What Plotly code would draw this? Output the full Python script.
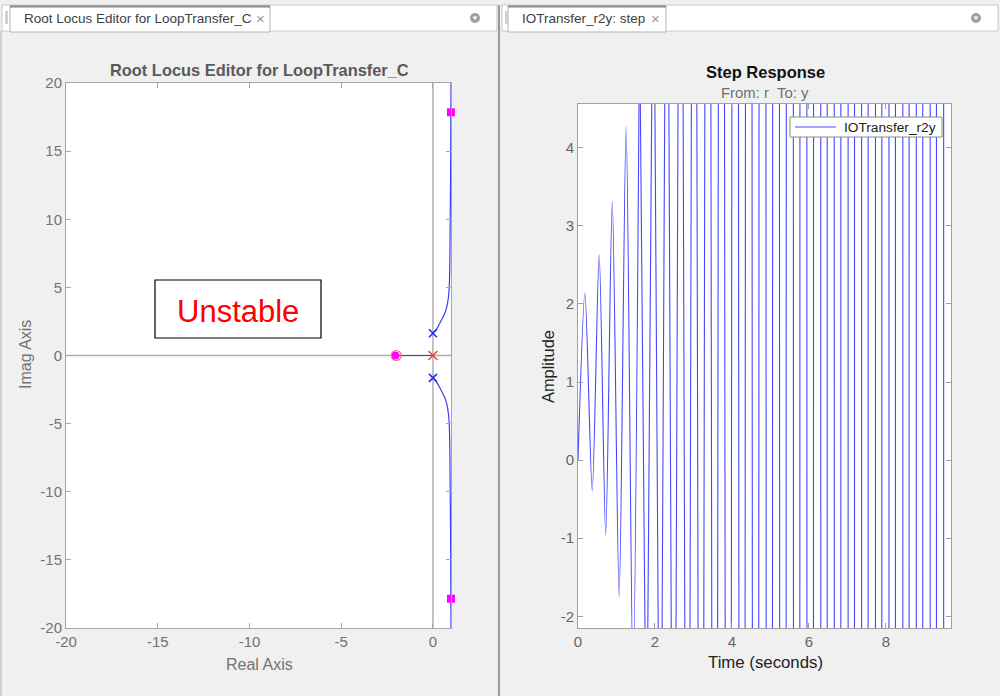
import plotly.graph_objects as go

# ---------------- data ----------------
# Root locus: upper / lower complex branches (from plant poles toward right-half asymptote)
locus_up_x = [0.0, 0.20, 0.38, 0.52, 0.65, 0.74, 0.80, 0.86, 0.89, 0.92, 0.94, 0.96, 0.975, 0.985]
locus_up_y = [1.64, 1.95, 2.39, 2.75, 3.12, 3.50, 3.86, 4.50, 5.08, 6.80, 10.0, 13.0, 17.0, 20.0]
locus_lo_x = [0.0, 0.20, 0.38, 0.52, 0.65, 0.74, 0.80, 0.86, 0.89, 0.92, 0.94, 0.96, 0.975, 0.985]
locus_lo_y = [-1.64, -1.95, -2.39, -2.75, -3.12, -3.50, -3.86, -4.50, -5.08, -6.80, -10.0, -13.0, -17.0, -20.0]
locus_real_x = [0.0, -2.0]
locus_real_y = [0.0, 0.0]

plant_poles_x = [0.0, 0.0]
plant_poles_y = [1.64, -1.64]
comp_pole_x = [0.0]
comp_pole_y = [0.0]
comp_zero_x = [-2.0]
comp_zero_y = [0.0]
cl_poles_x = [-2.05, 0.98, 0.98]
cl_poles_y = [0.0, 17.85, -17.85]

# Step response: start, then alternating peaks/troughs (off-scale ones estimated)
step_t0 = [0.0]
step_y0 = [0.0]
peak_t = [0.18, 0.55, 0.89, 1.25, 1.60, 1.96, 2.31, 2.67, 3.02, 3.38, 3.73, 4.09, 4.44, 4.80,
          5.15, 5.51, 5.86, 6.22, 6.57, 6.93, 7.28, 7.64, 7.99, 8.35, 8.70, 9.06, 9.41]
peak_y = [2.14, 2.63, 3.31, 4.27, 5.62, 7.5, 10.1, 13.8, 18.9, 26, 36, 50, 70, 98,
          137, 191, 267, 374, 524, 734, 1027, 1437, 2012, 2812, 3932, 5500, 7700]
trough_t = [0.37, 0.72, 1.07, 1.43, 1.78, 2.14, 2.49, 2.85, 3.20, 3.56, 3.91, 4.27, 4.62, 4.98,
            5.33, 5.69, 6.04, 6.40, 6.75, 7.11, 7.46, 7.82, 8.17, 8.53, 8.88, 9.24, 9.59]
trough_y = [-0.39, -0.96, -1.75, -2.85, -4.38, -6.5, -9.5, -13.6, -19.3, -27.3, -38, -54, -75, -105,
            -147, -205, -286, -400, -557, -775, -1078, -1500, -2085, -2898, -4028, -5600, -7780]
legend_name = "IOTransfer_r2y"

rl_xticks = [-20, -15, -10, -5, 0]
rl_yticks = [-20, -15, -10, -5, 0, 5, 10, 15, 20]
st_xticks = [0, 2, 4, 6, 8]
st_yticks = [-2, -1, 0, 1, 2, 3, 4]

# build step series (interleave); early part smoothed, later part straight
step_t = list(step_t0)
step_y = list(step_y0)
for a, b, c, d in zip(peak_t, peak_y, trough_t, trough_y):
    step_t += [a, c]
    step_y += [b, d]
N_SMOOTH = 9  # number of points drawn with spline smoothing
early_t, early_y = step_t[:N_SMOOTH + 1], step_y[:N_SMOOTH + 1]
late_t, late_y = step_t[N_SMOOTH:], step_y[N_SMOOTH:]

# ---------------- layout helpers ----------------
W, H = 1000, 696
def fx(p):
    return p / W
def fy(p):
    return 1 - p / H

FONT = "Liberation Sans, Arial, sans-serif"
BLUE = "rgb(60,60,255)"
STEPBLUE = "rgb(70,70,255)"

fig = go.Figure()

# root locus traces
for xs, ys, shp in [(locus_up_x, locus_up_y, "spline"), (locus_lo_x, locus_lo_y, "spline"),
                    (locus_real_x, locus_real_y, "linear")]:
    fig.add_trace(go.Scatter(x=xs, y=ys, mode="lines", line=dict(color=BLUE, width=1.2, shape=shp),
                             xaxis="x", yaxis="y", showlegend=False, hoverinfo="skip"))
fig.add_trace(go.Scatter(x=plant_poles_x, y=plant_poles_y, mode="markers",
                         marker=dict(symbol="x-thin", size=8, line=dict(color="rgb(40,40,230)", width=1.5)),
                         xaxis="x", yaxis="y", showlegend=False, cliponaxis=False))
fig.add_trace(go.Scatter(x=comp_pole_x, y=comp_pole_y, mode="markers",
                         marker=dict(symbol="x-thin", size=9, line=dict(color="rgb(230,70,70)", width=1.5)),
                         xaxis="x", yaxis="y", showlegend=False, cliponaxis=False))
fig.add_trace(go.Scatter(x=cl_poles_x[:1], y=cl_poles_y[:1], mode="markers",
                         marker=dict(symbol="circle", size=8, color="#ff00ff"),
                         xaxis="x", yaxis="y", showlegend=False, cliponaxis=False))
fig.add_trace(go.Scatter(x=comp_zero_x, y=comp_zero_y, mode="markers",
                         marker=dict(symbol="circle-open", size=10, line=dict(color="rgb(240,90,90)", width=1.2)),
                         xaxis="x", yaxis="y", showlegend=False, cliponaxis=False))
fig.add_trace(go.Scatter(x=cl_poles_x[1:], y=cl_poles_y[1:], mode="markers",
                         marker=dict(symbol="square", size=8, color="#ff00ff"),
                         xaxis="x", yaxis="y", showlegend=False, cliponaxis=False))

# step response
fig.add_trace(go.Scatter(x=early_t, y=early_y, mode="lines", name=legend_name,
                         line=dict(color=STEPBLUE, width=1.1, shape="spline", smoothing=0.8),
                         xaxis="x2", yaxis="y2", showlegend=False))
fig.add_trace(go.Scatter(x=late_t, y=late_y, mode="lines", name=legend_name,
                         line=dict(color=STEPBLUE, width=1.1, shape="linear"),
                         xaxis="x2", yaxis="y2", showlegend=False))

axis_common = dict(showgrid=False, zeroline=False, showline=True, mirror="ticks", ticks="inside",
                   ticklen=5, tickwidth=1, fixedrange=True, automargin=False)

shapes = []
# tab bars
for (x0, x1, tx0, tx1) in [(2, 497, 10, 270), (502, 998, 508, 666)]:
    shapes.append(dict(type="rect", xref="paper", yref="paper", x0=fx(x0), x1=fx(x1), y0=fy(31), y1=fy(5),
                       fillcolor="white", line=dict(color="#c8c8c8", width=1), layer="below"))
    shapes.append(dict(type="rect", xref="paper", yref="paper", x0=fx(tx0), x1=fx(tx1), y0=fy(32), y1=fy(6),
                       fillcolor="white", line=dict(color="#b4b4b4", width=1), layer="below"))
    shapes.append(dict(type="line", xref="paper", yref="paper", x0=fx(tx0), x1=fx(tx1), y0=fy(6.5), y1=fy(6.5),
                       line=dict(color="#8a8a8a", width=2)))
    shapes.append(dict(type="rect", xref="paper", yref="paper", x0=fx(x0 + 3), x1=fx(x0 + 6), y0=fy(24), y1=fy(11),
                       fillcolor="#d0d0d0", line=dict(width=0)))
    cx = x1 - 22
    shapes.append(dict(type="circle", xref="paper", yref="paper", x0=fx(cx - 5), x1=fx(cx + 5), y0=fy(23), y1=fy(13),
                       fillcolor="#a0a0a0", line=dict(width=0)))
    shapes.append(dict(type="path", xref="paper", yref="paper",
                       path="M %f %f L %f %f L %f %f Z" % (fx(cx - 2.5), fy(16.5), fx(cx + 2.5), fy(16.5), fx(cx), fy(20)),
                       fillcolor="white", line=dict(width=0)))
# panel borders
shapes.append(dict(type="line", xref="paper", yref="paper", x0=fx(499), x1=fx(499), y0=0, y1=fy(5),
                   line=dict(color="#9a9a9a", width=2)))
shapes.append(dict(type="line", xref="paper", yref="paper", x0=fx(1), x1=fx(1), y0=0, y1=fy(31),
                   line=dict(color="#b0b0b0", width=1)))
# root-locus reference axes (x=0 and y=0)
shapes.append(dict(type="line", xref="x", yref="paper", x0=0, x1=0, y0=fy(628), y1=fy(83),
                   line=dict(color="#b0b0b0", width=1.5), layer="below"))
shapes.append(dict(type="line", xref="paper", yref="y", x0=fx(66), x1=fx(451), y0=0, y1=0,
                   line=dict(color="#b0b0b0", width=1.5), layer="below"))
# "Unstable" box
shapes.append(dict(type="rect", xref="paper", yref="paper", x0=fx(155), x1=fx(321), y0=fy(338), y1=fy(280),
                   fillcolor="white", line=dict(color="black", width=1.2)))
# custom legend box
shapes.append(dict(type="rect", xref="paper", yref="paper", x0=fx(790), x1=fx(942), y0=fy(137), y1=fy(117),
                   fillcolor="white", line=dict(color="#8c8c8c", width=1)))
shapes.append(dict(type="line", xref="paper", yref="paper", x0=fx(795), x1=fx(836), y0=fy(127), y1=fy(127),
                   line=dict(color=STEPBLUE, width=1.1)))

annotations = [
    dict(text="Root Locus Editor for LoopTransfer_C", x=fx(22), y=fy(19), xref="paper", yref="paper",
         xanchor="left", yanchor="middle", showarrow=False, font=dict(family=FONT, size=13.5, color="#404040")),
    dict(text="×", x=fx(260), y=fy(19), xref="paper", yref="paper", xanchor="center", yanchor="middle",
         showarrow=False, font=dict(family=FONT, size=15, color="#999999")),
    dict(text="IOTransfer_r2y: step", x=fx(520), y=fy(19), xref="paper", yref="paper",
         xanchor="left", yanchor="middle", showarrow=False, font=dict(family=FONT, size=13.5, color="#404040")),
    dict(text="×", x=fx(655), y=fy(19), xref="paper", yref="paper", xanchor="center", yanchor="middle",
         showarrow=False, font=dict(family=FONT, size=15, color="#999999")),
    dict(text="<b>Root Locus Editor for LoopTransfer_C</b>", x=fx(259), y=fy(70), xref="paper", yref="paper",
         xanchor="center", yanchor="middle", showarrow=False, font=dict(family=FONT, size=16.4, color="#5a5a5a")),
    dict(text="Real Axis", x=fx(259), y=fy(664), xref="paper", yref="paper", xanchor="center", yanchor="middle",
         showarrow=False, font=dict(family=FONT, size=16, color="#737373")),
    dict(text="Imag Axis", x=fx(25), y=fy(355), xref="paper", yref="paper", xanchor="center", yanchor="middle",
         textangle=-90, showarrow=False, font=dict(family=FONT, size=16, color="#737373")),
    dict(text="Unstable", x=fx(238), y=fy(311), xref="paper", yref="paper", xanchor="center", yanchor="middle",
         showarrow=False, font=dict(family=FONT, size=31, color="#ff0000")),
    dict(text="<b>Step Response</b>", x=fx(765), y=fy(72), xref="paper", yref="paper", xanchor="center",
         yanchor="middle", showarrow=False, font=dict(family=FONT, size=16.5, color="#111111")),
    dict(text="From: r  To: y", x=fx(765), y=fy(93), xref="paper", yref="paper", xanchor="center",
         yanchor="middle", showarrow=False, font=dict(family=FONT, size=14.9, color="#707070")),
    dict(text="Amplitude", x=fx(548), y=fy(367), xref="paper", yref="paper", xanchor="center", yanchor="middle",
         textangle=-90, showarrow=False, font=dict(family=FONT, size=16.4, color="#222222")),
    dict(text="Time (seconds)", x=fx(765), y=fy(662), xref="paper", yref="paper", xanchor="center",
         yanchor="middle", showarrow=False, font=dict(family=FONT, size=16.8, color="#222222")),
    dict(text=legend_name, x=fx(842), y=fy(127), xref="paper", yref="paper", xanchor="left",
         yanchor="middle", showarrow=False, font=dict(family=FONT, size=13.7, color="#222222")),
]

def ticks(vals):
    return [str(v) for v in vals]

fig.update_layout(
    width=W, height=H, autosize=False,
    margin=dict(l=0, r=0, t=0, b=0, pad=0, autoexpand=False),
    paper_bgcolor="#f0f0f0", plot_bgcolor="white",
    font=dict(family=FONT),
    showlegend=False,
    xaxis=dict(domain=[fx(66), fx(451.3)], range=[-20, 1], tickvals=rl_xticks, ticktext=ticks(rl_xticks),
               linecolor="#a6a6a6", tickcolor="#a6a6a6", anchor="y",
               tickfont=dict(size=15, color="#737373"), **axis_common),
    yaxis=dict(domain=[fy(628), fy(83)], range=[-20, 20], tickvals=rl_yticks, ticktext=ticks(rl_yticks),
               linecolor="#a6a6a6", tickcolor="#a6a6a6", anchor="x",
               tickfont=dict(size=15, color="#737373"), **axis_common),
    xaxis2=dict(domain=[fx(578), fx(951)], range=[0, 9.69], tickvals=st_xticks, ticktext=ticks(st_xticks),
                linecolor="#a0a0a0", tickcolor="#a0a0a0", anchor="y2",
                tickfont=dict(size=15, color="#666666"), **axis_common),
    yaxis2=dict(domain=[fy(628), fy(104)], range=[-2.15, 4.56], tickvals=st_yticks, ticktext=ticks(st_yticks),
                linecolor="#a0a0a0", tickcolor="#a0a0a0", anchor="x2",
                tickfont=dict(size=15, color="#666666"), **axis_common),
    shapes=shapes,
    annotations=annotations,
)

fig.write_html(
    "out.html", config={"displayModeBar": False},
    post_script="document.documentElement.style.margin='0';document.body.style.margin='0';")
